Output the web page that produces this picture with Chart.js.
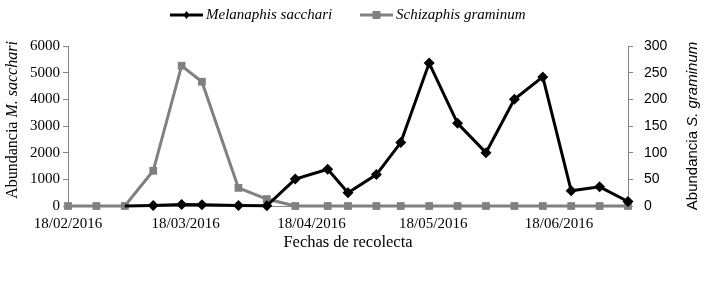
<!DOCTYPE html>
<html>
<head>
<meta charset="utf-8">
<script src="https://cdn.jsdelivr.net/npm/chart.js@4.4.1/dist/chart.umd.min.js"></script>
<style>
  html, body { margin: 0; padding: 0; background: #fff; }
  #wrap { width: 704px; height: 284px; position: relative; }
</style>
</head>
<body>
<div id="wrap"><canvas id="chart"></canvas></div>
<script>
// Sampling dates (dd/mm/yyyy)
const fechas = ["18/02/2016", "25/02/2016", "03/03/2016", "10/03/2016", "17/03/2016", "22/03/2016",
  "31/03/2016", "07/04/2016", "14/04/2016", "22/04/2016", "27/04/2016", "04/05/2016", "10/05/2016",
  "17/05/2016", "24/05/2016", "31/05/2016", "07/06/2016", "14/06/2016", "21/06/2016", "28/06/2016",
  "05/07/2016"];

// Melanaphis sacchari (left axis), no sample before 03/03
const melanaphis = [null, null, 0, 20, 60, 50, 20, 10, 1010, 1380, 500, 1180, 2380, 5360, 3100, 2000,
  4000, 4840, 570, 720, 170];

// Schizaphis graminum (right axis)
const schizaphis = [0, 0, 0, 66, 263, 233, 34, 13, 0, 0, 0, 0, 0, 0, 0, 0, 0, 0, 0, 0, 0];

// x-axis tick labels
const xTickLabels = ["18/02/2016", "18/03/2016", "18/04/2016", "18/05/2016", "18/06/2016"];

const START = new Date(2016, 1, 18);
function toDay(s) {
  const [d, m, y] = s.split("/").map(Number);
  return Math.round((new Date(y, m - 1, d) - START) / 86400000);
}
function fromDay(n) {
  const dt = new Date(2016, 1, 18 + n);
  const dd = String(dt.getDate()).padStart(2, "0");
  const mm = String(dt.getMonth() + 1).padStart(2, "0");
  return `${dd}/${mm}/${dt.getFullYear()}`;
}

const days = fechas.map(toDay);
const toPoints = arr => arr.map((v, i) => ({ x: days[i], y: v })).filter(p => p.y !== null);

const BLACK = "#000000";
const GRAY = "#808080";
const AXIS = "#868686";
const SERIF = "'Liberation Serif', 'Times New Roman', serif";
const SANS = "'Liberation Sans', Arial, sans-serif";

// draw a title made of a plain part and an italic part
function mixedText(ctx, parts, size, family, x, y, rotate) {
  ctx.save();
  ctx.translate(x, y);
  if (rotate) ctx.rotate(-Math.PI / 2);
  let total = 0;
  parts.forEach(p => {
    ctx.font = `${p.italic ? "italic " : ""}${size}px ${family}`;
    p.w = ctx.measureText(p.text).width;
    total += p.w;
  });
  let cx = -total / 2;
  ctx.fillStyle = "#000";
  ctx.textBaseline = "middle";
  ctx.textAlign = "left";
  parts.forEach(p => {
    ctx.font = `${p.italic ? "italic " : ""}${size}px ${family}`;
    ctx.fillText(p.text, cx, 0);
    cx += p.w;
  });
  ctx.restore();
}

const decorations = {
  id: "decorations",
  afterDraw(chart) {
    const ctx = chart.ctx;
    const area = chart.chartArea;
    const midY = (area.top + area.bottom) / 2;

    // axis titles
    mixedText(ctx, [{ text: "Abundancia " }, { text: "M. sacchari", italic: true }], 16, SERIF, 13, midY - 6, true);
    mixedText(ctx, [{ text: "Abundancia " }, { text: "S. graminum", italic: true }], 15, SANS, 693, midY, true);
    mixedText(ctx, [{ text: "Fechas de recolecta" }], 16.5, SERIF, (area.left + area.right) / 2, 243, false);

    // legend
    const ly = 15;
    const items = [
      { x: 170, color: BLACK, shape: "diamond", label: "Melanaphis sacchari" },
      { x: 360, color: GRAY, shape: "square", label: "Schizaphis graminum" }
    ];
    items.forEach(it => {
      ctx.save();
      ctx.strokeStyle = it.color;
      ctx.fillStyle = it.color;
      ctx.lineWidth = 3;
      ctx.beginPath();
      ctx.moveTo(it.x, ly);
      ctx.lineTo(it.x + 33, ly);
      ctx.stroke();
      const cx = it.x + 16.5;
      ctx.beginPath();
      if (it.shape === "diamond") {
        ctx.moveTo(cx, ly - 4); ctx.lineTo(cx + 3, ly); ctx.lineTo(cx, ly + 4); ctx.lineTo(cx - 3, ly);
      } else {
        ctx.rect(cx - 4, ly - 4, 8, 8);
      }
      ctx.closePath();
      ctx.fill();
      ctx.font = `italic 15px ${SERIF}`;
      ctx.fillStyle = "#000";
      ctx.textBaseline = "middle";
      ctx.fillText(it.label, it.x + 36, ly);
      ctx.restore();
    });
  }
};

new Chart(document.getElementById("chart"), {
  type: "line",
  data: {
    datasets: [
      {
        label: "Melanaphis sacchari",
        data: toPoints(melanaphis),
        yAxisID: "y",
        borderColor: BLACK,
        backgroundColor: BLACK,
        borderWidth: 3,
        pointStyle: "rectRot",
        // first sample sits under the gray marker in the original
        pointRadius: ctx => (ctx.dataIndex === 0 ? 0 : 5.5),
        pointBorderWidth: 0,
        tension: 0,
        clip: false
      },
      {
        label: "Schizaphis graminum",
        data: toPoints(schizaphis),
        yAxisID: "y1",
        borderColor: GRAY,
        backgroundColor: GRAY,
        borderWidth: 3,
        pointStyle: "rect",
        pointRadius: 5.5,
        pointBorderWidth: 0,
        tension: 0,
        clip: false
      }
    ]
  },
  options: {
    responsive: true,
    maintainAspectRatio: false,
    animation: false,
    layout: { padding: { top: 46, left: 0, right: 0, bottom: 0 } },
    plugins: {
      legend: { display: false },
      tooltip: { enabled: false }
    },
    scales: {
      x: {
        type: "linear",
        min: 0,
        max: days[days.length - 1],
        afterBuildTicks: scale => {
          scale.ticks = xTickLabels.map(t => ({ value: toDay(t) }));
        },
        afterFit: scale => { scale.height = 78; },
        grid: { drawOnChartArea: false, drawTicks: false },
        border: { color: AXIS, width: 1 },
        ticks: {
          padding: 9,
          color: "#000",
          font: { family: SERIF, size: 15 },
          maxRotation: 0,
          autoSkip: false,
          callback: v => fromDay(v)
        }
      },
      y: {
        position: "left",
        min: 0,
        max: 6000,
        afterFit: scale => { scale.width = 68; },
        grid: { drawOnChartArea: false, drawTicks: true, tickLength: 5, color: AXIS },
        border: { color: AXIS, width: 1 },
        ticks: {
          stepSize: 1000,
          padding: 3,
          color: "#000",
          font: { family: SERIF, size: 15 },
          callback: v => String(v)
        }
      },
      y1: {
        position: "right",
        min: 0,
        max: 300,
        afterFit: scale => { scale.width = 76; },
        grid: { drawOnChartArea: false, drawTicks: true, tickLength: 5, color: AXIS },
        border: { color: AXIS, width: 1 },
        ticks: {
          stepSize: 50,
          padding: 11,
          color: "#000",
          font: { family: SANS, size: 14 },
          callback: v => String(v)
        }
      }
    }
  },
  plugins: [decorations]
});
</script>
</body>
</html>
